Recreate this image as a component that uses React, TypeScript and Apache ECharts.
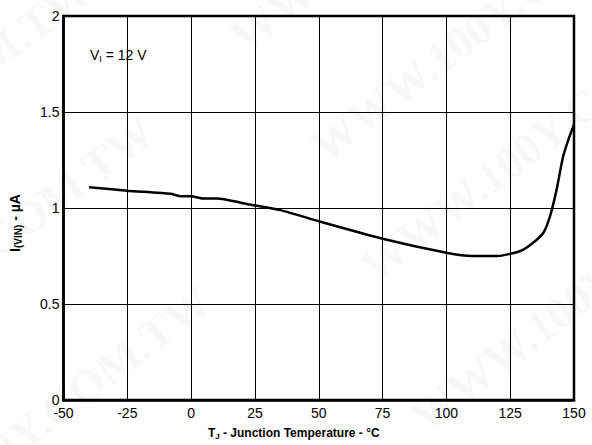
import React, { useEffect, useRef } from "react";
import * as echarts from "echarts";

const temperatures = [-40, -25, -8, -4, 0, 5, 10, 23, 35, 50, 75, 100, 110, 120, 129, 134, 138, 140.6, 143.2, 145.6, 147.8, 150];
const currents = [1.108, 1.09, 1.074, 1.061, 1.061, 1.049, 1.049, 1.018, 0.989, 0.931, 0.84, 0.767, 0.75, 0.75, 0.776, 0.819, 0.871, 0.957, 1.096, 1.26, 1.356, 1.434];
const xTicks = { min: -50, max: 150, interval: 25 };
const yTicks = { min: 0, max: 2, interval: 0.5 };
const watermark = "WWW.100Y.COM.TW";
const watermarkStarts: [number, number][] = [
  [-263, 279], [-200, 420], [-143, 589],
  [330, 170], [380, 290], [430, 440], [250, 60],
];

export default function App() {
  const ref = useRef<HTMLDivElement>(null);
  useEffect(() => {
    if (!ref.current) return;
    const chart = echarts.init(ref.current, null, { renderer: "svg" });
    const font = "Liberation Sans, Arial, sans-serif";
    chart.setOption({
      animation: false,
      backgroundColor: "#ffffff",
      grid: {
        left: 62, right: 18, top: 16, bottom: 44,
        show: true, borderColor: "#000", borderWidth: 2.5,
      },
      xAxis: {
        type: "value",
        min: xTicks.min, max: xTicks.max, interval: xTicks.interval,
        axisLine: { show: true, onZero: false, lineStyle: { color: "#000", width: 2.5 } },
        axisTick: { show: false },
        splitLine: { show: true, lineStyle: { color: "#000", width: 1 } },
        axisLabel: { color: "#000", fontFamily: font, fontSize: 14, margin: 6 },
        name: "{b|T}{s|J}{b| - Junction Temperature - °C}",
        nameLocation: "middle",
        nameGap: 26,
        nameTextStyle: {
          padding: [0, 50, 0, 0],
          rich: {
            b: { fontFamily: font, fontSize: 12, fontWeight: "bold", color: "#000" },
            s: { fontFamily: font, fontSize: 8, fontWeight: "bold", color: "#000", verticalAlign: "bottom", padding: [6, 0, 0, 0] },
          },
        },
      },
      yAxis: {
        type: "value",
        min: yTicks.min, max: yTicks.max, interval: yTicks.interval,
        axisLine: { show: true, onZero: false, lineStyle: { color: "#000", width: 2.5 } },
        axisTick: { show: false },
        splitLine: { show: true, lineStyle: { color: "#000", width: 1 } },
        axisLabel: { color: "#000", fontFamily: font, fontSize: 14, margin: 4 },
        name: "{b|I}{s|(VIN)}{b| - µA}",
        nameLocation: "middle",
        nameGap: 40,
        nameTextStyle: {
          padding: [0, 30, 0, 0],
          rich: {
            b: { fontFamily: font, fontSize: 14, fontWeight: "bold", color: "#000" },
            s: { fontFamily: font, fontSize: 10, fontWeight: "bold", color: "#000", verticalAlign: "bottom", padding: [7, 0, 0, 0] },
          },
        },
      },
      graphic: [
        ...watermarkStarts.map(([x, y]) => ({
          type: "text",
          x, y,
          rotation: 0.65,
          silent: true,
          z: -10,
          style: {
            text: watermark,
            font: "bold 46px 'Liberation Serif', 'Times New Roman', serif",
            fill: "rgba(0,0,0,0.045)",
            textVerticalAlign: "bottom",
          },
        })),
        {
          type: "text",
          left: 90, top: 48,
          z: 10,
          style: {
            text: "{a|V}{s|I}{a| = 12 V}",
            rich: {
              a: { fontFamily: font, fontSize: 14, fill: "#000", color: "#000" },
              s: { fontFamily: font, fontSize: 9, fill: "#000", color: "#000", verticalAlign: "bottom", padding: [8, 0, 0, 0] },
            },
          },
        },
      ],
      series: [
        {
          type: "line",
          data: temperatures.map((t, i) => [t, currents[i]]),
          showSymbol: false,
          smooth: 0.2,
          lineStyle: { color: "#000", width: 2.5 },
          z: 5,
        },
      ],
    });
    return () => chart.dispose();
  }, []);
  return <div ref={ref} style={{ width: 592, height: 445, position: "absolute", left: 0, top: 0 }} />;
}
